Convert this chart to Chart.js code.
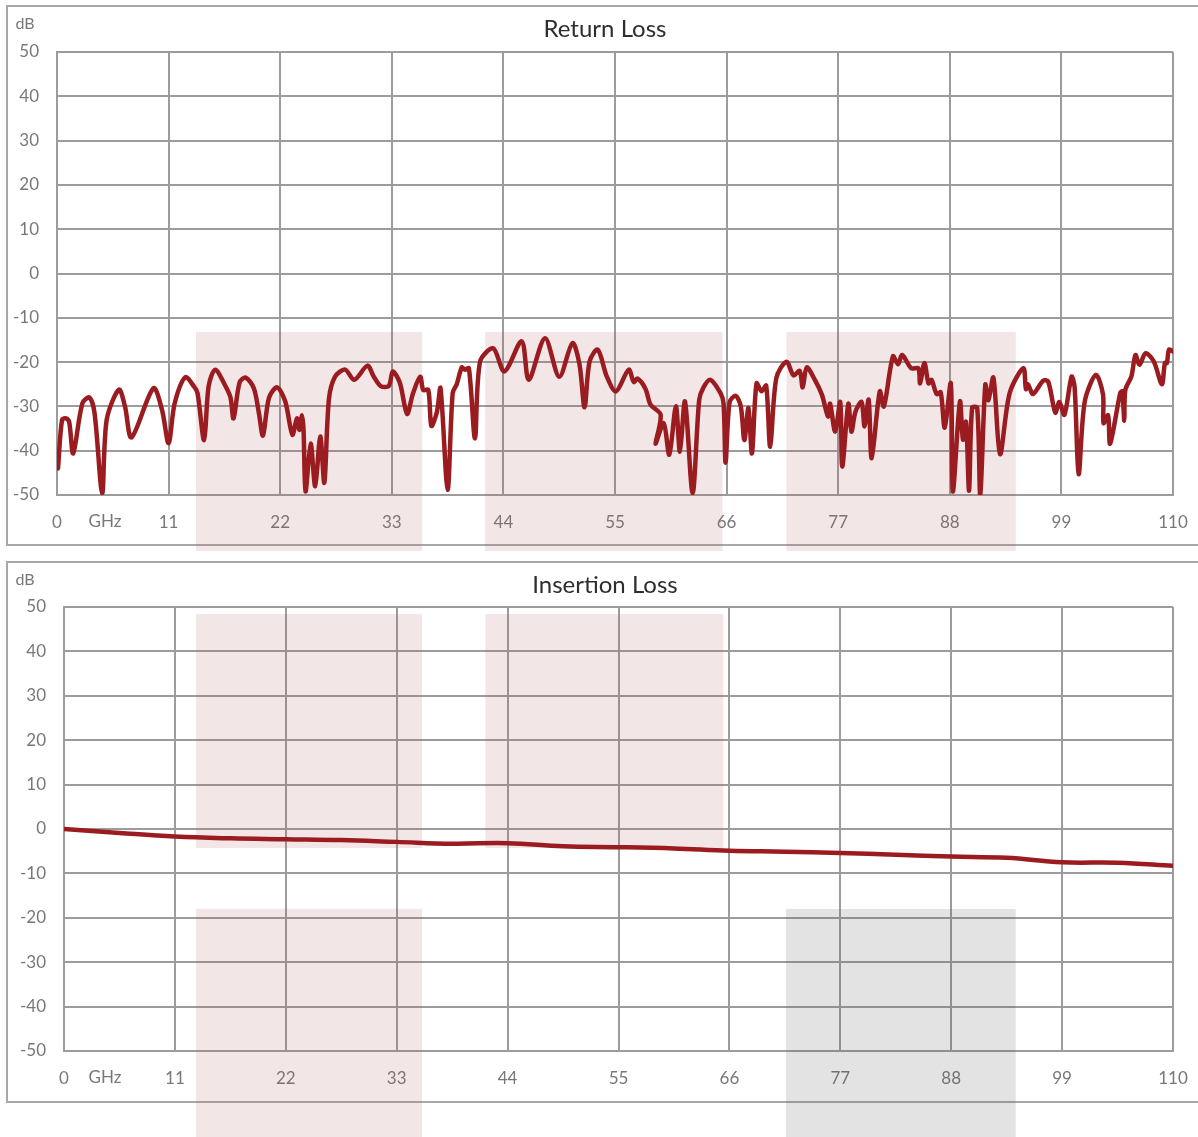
<!DOCTYPE html>
<html>
<head>
<meta charset="utf-8">
<script src="https://cdn.jsdelivr.net/npm/chart.js@4.4.1/dist/chart.umd.min.js"></script>
<style>
  body { margin: 0; background: #fff; width: 1198px; height: 1137px; position: relative; overflow: hidden; }
  .box { position: absolute; left: 6px; width: 1200px; border: 2px solid #a8a8a8; box-sizing: border-box; }
  #box1 { top: 5px; height: 541px; }
  #box2 { top: 561px; height: 542px; }
  canvas { position: absolute; left: 0; }
  #returnLoss { top: 0; }
  #insertionLoss { top: 556px; }
</style>
</head>
<body>
<div class="box" id="box1"></div>
<div class="box" id="box2"></div>
<canvas id="returnLoss" width="1198" height="556" style="width:1198px;height:556px"></canvas>
<canvas id="insertionLoss" width="1198" height="581" style="width:1198px;height:581px"></canvas>
<script>
// return loss trace (GHz, dB)
const rlFreq = [0.1, 0.5, 0.9, 1.2, 1.6, 2.5, 3.2, 3.7, 4.45, 4.9, 6.1, 6.7, 7.35, 9.5, 10.35, 11.0, 11.6, 12.65, 13.5, 13.85,
  14.5, 14.95, 15.6, 16.6, 17.1, 17.4, 18.0, 18.6, 19.4, 19.9, 20.3, 20.9, 21.7, 22.5, 23.2, 23.65, 23.9, 24.15, 24.3, 24.5,
  25.0, 25.45, 25.95, 26.35, 26.8, 27.4, 28.4, 29.3, 30.6, 31.2, 31.9, 32.7, 33.1, 33.8, 34.5, 35.1, 35.8, 36.1, 36.6, 36.9,
  37.45, 37.8, 38.5, 39.0, 39.4, 39.9, 40.2, 40.6, 41.2, 41.7, 43.0, 44.1, 45.8, 46.5, 48.1, 49.5, 50.8, 51.5, 52.0, 52.5,
  53.3, 54.2, 55.1, 56.35, 56.85, 57.2, 58.0, 58.5, 59.5, 59.0, 59.8, 60.35, 61.0, 61.4, 61.9, 62.65, 63.3, 63.7, 64.4, 65.4,
  65.7, 65.9, 66.3, 66.9, 67.4, 67.75, 68.15, 68.5, 68.95, 69.45, 69.9, 70.3, 70.9, 71.9, 72.6, 73.2, 73.5, 73.9, 74.7, 75.4,
  76.0, 76.2, 76.7, 77.2, 77.4, 78.0, 78.3, 78.7, 79.3, 79.6, 80.0, 80.3, 81.1, 81.5, 82.4, 82.9, 83.3, 84.2, 84.9, 85.07,
  85.5, 85.9, 86.2, 86.7, 87.1, 87.5, 88.1, 88.3, 89.0, 89.3, 89.6, 89.9, 90.2, 90.7, 91.0, 91.5, 91.8, 92.3, 92.95, 93.9,
  95.25, 95.5, 95.7, 96.2, 97.2, 97.7, 98.4, 98.8, 99.3, 100.0, 100.3, 100.7, 101.3, 102.4, 103.1, 103.15, 103.6, 103.8, 104.8, 105.0,
  105.2, 105.3, 105.9, 106.3, 106.7, 107.3, 108.1, 108.9, 109.2, 109.4, 109.6, 110.0]
const rlDb = [-44, -33, -32.7, -33.5, -40.6, -29.3, -28.0, -31.5, -49.6, -33, -26.2, -30, -37, -25.9, -30.8, -38.3, -29.3, -23.4, -25.5, -27,
  -37.6, -25.4, -21.7, -25.4, -28, -32.7, -24.6, -23.5, -25.9, -31.5, -36.6, -28, -25.7, -28.9, -36.4, -32.7, -35.3, -32, -35.3, -49.2,
  -38.4, -48, -36.8, -47.2, -28.4, -23.3, -21.7, -24, -20.8, -23.2, -25.4, -25.4, -22.1, -24.7, -31.7, -27, -23.3, -26.3, -26.3, -34.4,
  -31.2, -25.9, -48.8, -27, -25, -21.2, -21.7, -21.4, -37.2, -19.9, -16.9, -22.1, -15.3, -24, -14.6, -23.3, -15.7, -20.5, -30.2, -19.8,
  -17.2, -23.3, -26.6, -21.7, -24.5, -23.7, -26, -29.6, -31.9, -38.4, -33.8, -40.9, -30, -40.2, -28.9, -49.6, -28.5, -25.8, -24, -27,
  -29.3, -42.7, -29, -27.6, -30, -37.6, -30.4, -40.6, -24.8, -26.6, -25.3, -39.1, -23.6, -19.9, -23, -22, -25.7, -21.2, -24, -27.4,
  -32.3, -29.4, -35.7, -29, -43.6, -29.4, -35.7, -31.2, -29, -34.5, -28.5, -41.7, -26.6, -30, -18.7, -20.5, -18.4, -21.4, -21.4, -24.8,
  -20.2, -24.8, -24, -27.2, -26.8, -34.8, -24.8, -49.2, -28.9, -37.5, -33.5, -49, -30.3, -30.3, -49.9, -25.1, -28.6, -23.5, -40.8, -27,
  -21.4, -26.1, -25, -27.2, -24.2, -24.4, -31.4, -29, -31.9, -23.3, -25.6, -45.3, -28.9, -22.9, -27.3, -33.8, -32, -38.4, -27, -26.6,
  -33.2, -26.3, -23.2, -18.4, -20.6, -18, -19.8, -25, -20.2, -20.2, -17.2, -17.6]

// insertion loss trace
const ilFreq = [0, 5.5, 11, 16.5, 22, 27.5, 33, 38.5, 44, 49.5, 55, 60.5, 66, 71.5, 77, 82.5, 88, 93.5, 99, 104.5, 110]
const ilDb = [0, -0.9, -1.7, -2.1, -2.3, -2.5, -2.9, -3.3, -3.2, -3.9, -4.1, -4.4, -4.9, -5.1, -5.4, -5.8, -6.2, -6.5, -7.5, -7.6, -8.3]

// shaded bands: [fromGHz, toGHz, topDb, bottomDb] (null bottom = run to edge of canvas)
const rlBands = [[13.7, 36.0, -13.2, null], [42.2, 65.6, -13.2, null], [71.9, 94.5, -13.2, null]]
const ilBands = [[13.1, 35.5, 48.4, -4.3], [41.8, 65.4, 48.4, -4.3], [13.1, 35.5, -18.0, null], [71.6, 94.4, -18.0, null]]
const ilBandColors = ['pink', 'pink', 'pink', 'grey']

const xTicks = [0, 11, 22, 33, 44, 55, 66, 77, 88, 99, 110]
const yTicks = [-50, -40, -30, -20, -10, 0, 10, 20, 30, 40, 50]

const RED = '#9b1c20'
const GRID = '#9c9c9c'
const TICK = '#787878'
const bandFill = { pink: 'rgba(168, 88, 90, 0.15)', grey: 'rgba(90, 90, 90, 0.17)' }

const decor = {
  id: 'decor',
  beforeDatasetsDraw(chart, args, opts) {
    const { ctx, scales: { x, y } } = chart
    ctx.save()
    opts.bands.forEach((b, i) => {
      const left = x.getPixelForValue(b[0])
      const right = x.getPixelForValue(b[1])
      const top = y.getPixelForValue(b[2])
      const bottom = b[3] === null ? chart.height - opts.bandGap : y.getPixelForValue(b[3])
      ctx.fillStyle = bandFill[opts.colors[i]]
      ctx.fillRect(left, top, right - left, bottom - top)
    })
    ctx.restore()
  },
  afterDraw(chart, args, opts) {
    const { ctx } = chart
    ctx.save()
    ctx.textBaseline = 'middle'
    ctx.textAlign = 'center'
    ctx.fillStyle = '#2e2e2e'
    ctx.font = '24px Lato'
    ctx.fillText(opts.title, 605, 29)
    ctx.fillStyle = TICK
    ctx.font = '16px Lato'
    ctx.fillText('dB', 25, 24)
    ctx.font = '17px Lato'
    ctx.fillText('GHz', 105, chart.chartArea.bottom + 27)
    ctx.restore()
  }
}

function makeOptions(title, left, top, bottomSpace, bands, colors, bandGap) {
  return {
    responsive: false,
    animation: false,
    layout: { padding: { left: 0, right: 25, top: top, bottom: 0 } },
    plugins: {
      legend: { display: false },
      tooltip: { enabled: false },
      decor: { title, bands, colors, bandGap }
    },
    scales: {
      x: {
        type: 'linear', min: 0, max: 110,
        afterBuildTicks: s => { s.ticks = xTicks.map(v => ({ value: v })) },
        afterFit: s => { s.height = bottomSpace; s.paddingLeft = 0; s.paddingRight = 0 },
        grid: { color: GRID, lineWidth: 2, drawTicks: false },
        border: { color: GRID, width: 2 },
        ticks: { color: TICK, font: { family: 'Lato', size: 17 }, padding: 17, maxRotation: 0 }
      },
      y: {
        min: -50, max: 50,
        afterBuildTicks: s => { s.ticks = yTicks.map(v => ({ value: v })) },
        afterFit: s => { s.width = left; s.paddingTop = 0; s.paddingBottom = 0 },
        grid: { color: GRID, lineWidth: 2, drawTicks: false },
        border: { color: GRID, width: 2 },
        ticks: { color: TICK, font: { family: 'Lato', size: 17 }, padding: 18 }
      }
    }
  }
}

new Chart(document.getElementById('returnLoss'), {
  type: 'line',
  data: {
    datasets: [{
      data: rlFreq.map((f, i) => ({ x: f, y: rlDb[i] })),
      borderColor: RED, borderWidth: 4.5, pointRadius: 0, tension: 0.3,
      borderJoinStyle: 'round', borderCapStyle: 'round'
    }]
  },
  options: makeOptions('Return Loss', 57, 52, 61, rlBands, ['pink', 'pink', 'pink'], 5),
  plugins: [decor]
})

new Chart(document.getElementById('insertionLoss'), {
  type: 'line',
  data: {
    datasets: [{
      data: ilFreq.map((f, i) => ({ x: f, y: ilDb[i] })),
      borderColor: RED, borderWidth: 4.5, pointRadius: 0, tension: 0.4,
      borderJoinStyle: 'round', borderCapStyle: 'round'
    }]
  },
  options: makeOptions('Insertion Loss', 64, 51, 86, ilBands, ilBandColors, 0),
  plugins: [decor]
})
</script>
</body>
</html>
